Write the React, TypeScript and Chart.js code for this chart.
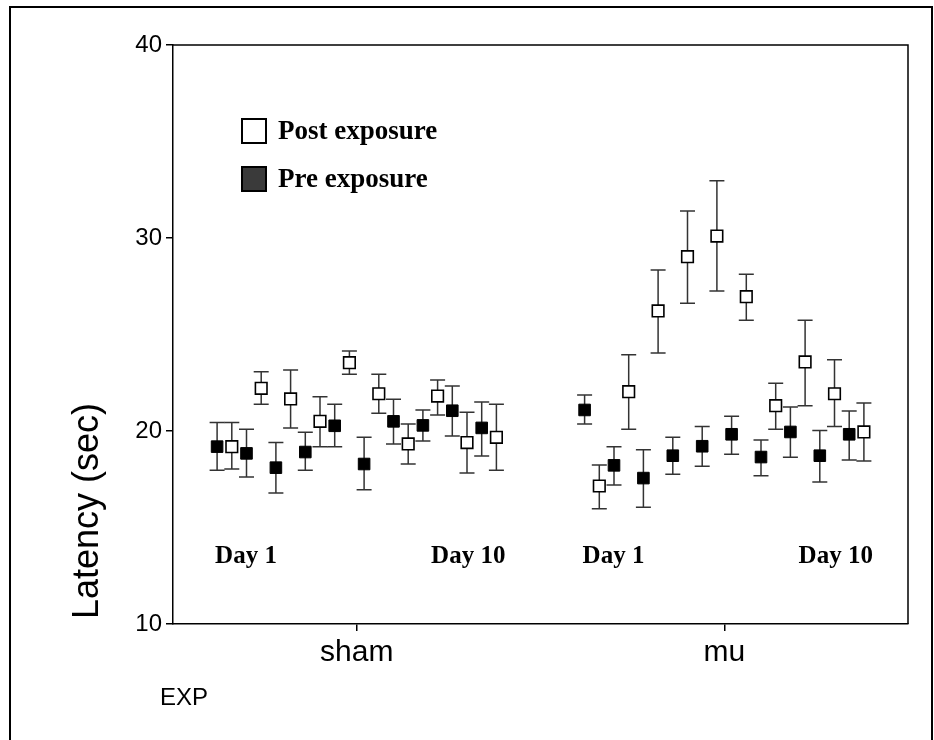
import React, { useEffect, useRef } from "react";
import { Chart, registerables } from "chart.js";

Chart.register(...registerables);

// ---- data ----
const groups = ["sham", "mu"];
const days = [1, 2, 3, 4, 5, 6, 7, 8, 9, 10];
const yTicks = [10, 20, 30, 40];
const seriesNames = ["Post exposure", "Pre exposure"];
const dayLabels = ["Day 1", "Day 10"];
const axisTitleY = "Latency (sec)";
const axisTitleX = "EXP";

const shamPre = [19.19, 18.84, 18.1, 18.91, 20.27, 18.29, 20.5, 20.29, 21.05, 20.16];
const shamPreLow = [17.96, 17.62, 16.79, 17.96, 19.19, 16.96, 19.33, 19.48, 19.74, 18.7];
const shamPreHigh = [20.44, 20.09, 19.41, 19.93, 21.38, 19.67, 21.64, 21.09, 22.33, 21.5];

const shamPost = [19.19, 22.21, 21.66, 20.5, 23.54, 21.93, 19.33, 21.81, 19.4, 19.67];
const shamPostLow = [18.03, 21.38, 20.16, 19.19, 22.94, 20.92, 18.29, 20.83, 17.82, 17.96];
const shamPostHigh = [20.44, 23.07, 23.16, 21.78, 24.15, 22.94, 20.36, 22.64, 20.97, 21.38];

const muPre = [21.09, 18.22, 17.56, 18.72, 19.21, 19.83, 18.65, 19.95, 18.72, 19.83];
const muPreLow = [20.36, 17.2, 16.05, 17.76, 18.17, 18.79, 17.68, 18.64, 17.36, 18.5];
const muPreHigh = [21.87, 19.19, 19.03, 19.67, 20.23, 20.76, 19.53, 21.24, 20.02, 21.04];

const muPost = [17.15, 22.04, 26.22, 29.03, 30.1, 26.96, 21.31, 23.58, 21.93, 19.95];
const muPostLow = [15.97, 20.09, 24.04, 26.62, 27.25, 25.74, 20.09, 21.31, 20.23, 18.45];
const muPostHigh = [18.24, 23.95, 28.34, 31.4, 32.97, 28.12, 22.47, 25.74, 23.69, 21.45];

// position of a (group, day, series) point on the linear x axis
const SLOT = 0.04;
function slotX(groupIdx: number, dayIdx: number, isPost: boolean) {
  const slot = dayIdx * 2 + (isPost ? 1 : 0);
  return groupIdx + 1 + (slot - 9.5) * SLOT;
}

function buildPoints(isPost: boolean) {
  const sets = isPost
    ? [[shamPost, shamPostLow, shamPostHigh], [muPost, muPostLow, muPostHigh]]
    : [[shamPre, shamPreLow, shamPreHigh], [muPre, muPreLow, muPreHigh]];
  const pts: any[] = [];
  sets.forEach((s, g) => {
    days.forEach((_, d) => {
      pts.push({ x: slotX(g, d, isPost), y: s[0][d], lo: s[1][d], hi: s[2][d] });
    });
  });
  return pts;
}

const SANS = '"Liberation Sans", Arial, sans-serif';
const SERIF = '"Liberation Serif", "Times New Roman", serif';

const errorBarPlugin = {
  id: "errorBars",
  beforeDatasetsDraw(chart: any) {
    const ctx = chart.ctx;
    const ys = chart.scales.y;
    ctx.save();
    ctx.strokeStyle = "#333";
    ctx.lineWidth = 1.5;
    chart.data.datasets.forEach((ds: any, i: number) => {
      const meta = chart.getDatasetMeta(i);
      meta.data.forEach((el: any, j: number) => {
        const p = ds.data[j];
        const x = el.x;
        const y1 = ys.getPixelForValue(p.lo);
        const y2 = ys.getPixelForValue(p.hi);
        ctx.beginPath();
        ctx.moveTo(x, y1);
        ctx.lineTo(x, y2);
        ctx.moveTo(x - 7.5, y1);
        ctx.lineTo(x + 7.5, y1);
        ctx.moveTo(x - 7.5, y2);
        ctx.lineTo(x + 7.5, y2);
        ctx.stroke();
      });
    });
    ctx.restore();
  },
};

const decorPlugin = {
  id: "decor",
  afterDraw(chart: any) {
    const ctx = chart.ctx;
    const a = chart.chartArea;
    const xs = chart.scales.x;
    const ys = chart.scales.y;
    ctx.save();
    // frame top & right
    ctx.strokeStyle = "#000";
    ctx.lineWidth = 1.5;
    ctx.beginPath();
    ctx.moveTo(a.left, a.top);
    ctx.lineTo(a.right, a.top);
    ctx.lineTo(a.right, a.bottom);
    ctx.stroke();
    // outer border
    ctx.lineWidth = 2;
    ctx.strokeRect(10, 7, 922, 760);

    // legend
    ctx.lineWidth = 2;
    ctx.fillStyle = "#fff";
    ctx.fillRect(242, 119, 24, 24);
    ctx.strokeRect(242, 119, 24, 24);
    ctx.fillStyle = "#3a3a3a";
    ctx.fillRect(242, 167, 24, 24);
    ctx.strokeRect(242, 167, 24, 24);
    ctx.fillStyle = "#000";
    ctx.font = `bold 27px ${SERIF}`;
    ctx.textAlign = "left";
    ctx.textBaseline = "alphabetic";
    ctx.fillText(seriesNames[0], 278, 139);
    ctx.fillText(seriesNames[1], 278, 187);

    // day labels
    ctx.font = `bold 25px ${SERIF}`;
    const yDay = ys.getPixelForValue(13.15);
    groups.forEach((_, g) => {
      ctx.textAlign = "left";
      ctx.fillText(dayLabels[0], xs.getPixelForValue(slotX(g, 0, false)) - 2, yDay);
      ctx.textAlign = "right";
      ctx.fillText(dayLabels[1], xs.getPixelForValue(slotX(g, 9, true)) + 9, yDay);
    });

    // y title
    ctx.font = `36px ${SANS}`;
    ctx.textAlign = "left";
    ctx.save();
    ctx.translate(98, a.bottom - 5);
    ctx.rotate(-Math.PI / 2);
    ctx.fillText(axisTitleY, 0, 0);
    ctx.restore();

    // x title
    ctx.font = `24px ${SANS}`;
    ctx.textAlign = "left";
    ctx.fillText(axisTitleX, 160, 705);
    ctx.restore();
  },
};

export default function App() {
  const ref = useRef<HTMLCanvasElement | null>(null);
  useEffect(() => {
    if (!ref.current) return;
    const chart = new Chart(ref.current, {
      type: "scatter",
      data: {
        datasets: [
          {
            label: seriesNames[0],
            data: buildPoints(true),
            pointStyle: "rect",
            pointRadius: 8.2,
            pointHoverRadius: 8.2,
            backgroundColor: "#fff",
            borderColor: "#000",
            borderWidth: 1.6,
          },
          {
            label: seriesNames[1],
            data: buildPoints(false),
            pointStyle: "rect",
            pointRadius: 8.2,
            pointHoverRadius: 8.2,
            backgroundColor: "#000",
            borderColor: "#000",
            borderWidth: 1,
          },
        ],
      },
      options: {
        responsive: false,
        animation: false,
        events: [],
        layout: { padding: { top: 45, right: 26, left: 0, bottom: 0 } },
        plugins: { legend: { display: false }, tooltip: { enabled: false } },
        scales: {
          x: {
            type: "linear",
            min: 0.5,
            max: 2.5,
            afterBuildTicks: (s: any) => {
              s.ticks = groups.map((_, i) => ({ value: i + 1 }));
            },
            afterFit: (s: any) => {
              s.height = 116;
            },
            ticks: {
              autoSkip: false,
              maxRotation: 0,
              padding: 4,
              color: "#000",
              font: { family: SANS, size: 30 },
              callback: (v: any) => groups[Math.round(v) - 1] ?? "",
            },
            grid: { drawOnChartArea: false, drawTicks: true, tickLength: 7, color: "#000", lineWidth: 1.5 },
            border: { display: true, color: "#000", width: 1.5 },
          },
          y: {
            min: 10,
            max: 40,
            afterBuildTicks: (s: any) => {
              s.ticks = yTicks.map((v) => ({ value: v }));
            },
            afterFit: (s: any) => {
              s.width = 173;
            },
            ticks: {
              padding: 4,
              color: "#000",
              font: { family: SANS, size: 24 },
            },
            grid: { drawOnChartArea: false, drawTicks: true, tickLength: 7, color: "#000", lineWidth: 1.5 },
            border: { display: true, color: "#000", width: 1.5 },
          },
        },
      },
      plugins: [errorBarPlugin, decorPlugin],
    });
    return () => chart.destroy();
  }, []);
  return (
    <div style={{ position: "absolute", left: 0, top: 0, width: 934, height: 740, background: "#fff" }}>
      <canvas ref={ref} width={934} height={740} style={{ width: 934, height: 740, display: "block" }} />
    </div>
  );
}
